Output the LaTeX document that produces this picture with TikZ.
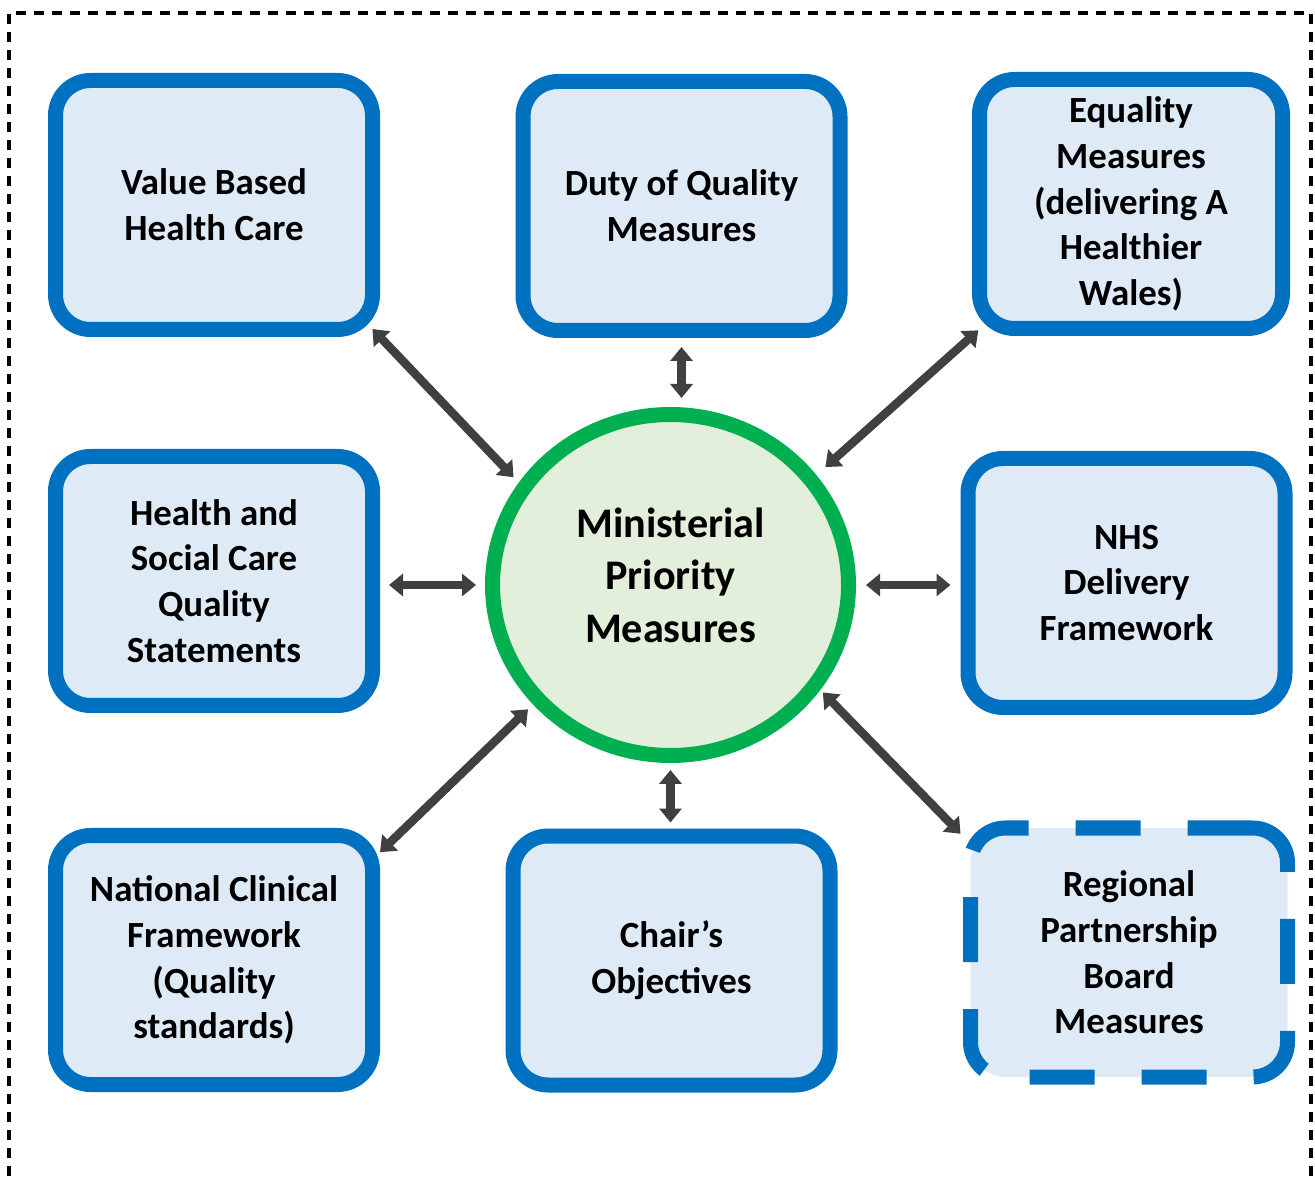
\documentclass[tikz,border=0pt]{standalone}
\usepackage{fontspec}
\setmainfont{Carlito}
\usepackage{tikz}
\usetikzlibrary{arrows.meta,shapes.geometric}
\definecolor{boxblue}{RGB}{0,112,192}
\definecolor{boxfill}{RGB}{222,235,247}
\definecolor{hubgreen}{RGB}{0,176,80}
\definecolor{hubfill}{RGB}{226,239,218}
\definecolor{arrgrey}{RGB}{64,64,64}

\begin{document}
\begin{tikzpicture}[
  font=\bfseries,
  measure/.style={rectangle, rounded corners=0.7cm, draw=boxblue, line width=0.3cm, fill=boxfill,
                  minimum width=6.34cm, minimum height=4.98cm, inner sep=2pt, align=center,
                  font=\fontsize{21}{26}\selectfont\bfseries},
  hub/.style={ellipse, draw=hubgreen, line width=0.3cm, fill=hubfill,
              minimum width=7.12cm, minimum height=6.82cm, align=center, text depth=0.4cm,
              font=\fontsize{24}{30}\selectfont\bfseries},
  link/.style={{Triangle[length=0.28cm,width=0.44cm]}-{Triangle[length=0.28cm,width=0.44cm]},
               draw=arrgrey, line width=0.17cm},
  outerframe/.style={draw=black, line width=0.07cm, dash pattern=on 0.2cm off 0.16cm},
]
\useasboundingbox (0,0) rectangle (26.3,23.52);

% outer dashed frame, runs off the bottom
\draw[outerframe] (0.18,0) -- (0.18,23.26) -- (26.22,23.26) -- (26.22,0);

% ============================================================
% centre: ministerial priorities
% ============================================================
\node[hub] (mpm) at (13.41,11.82) {Ministerial\\Priority\\Measures};

% ============================================================
% surrounding measure sets
% ============================================================
\node[measure] (vbhc) at (4.28,19.42)  {Value Based\\Health Care};
\node[measure] (dqm)  at (13.63,19.40) {Duty of Quality\\Measures};
\node[measure, minimum width=6.06cm] (eqm) at (22.62,19.44)
  {Equality\\Measures\\(delivering A\\Healthier\\Wales)};
\node[measure] (hsc)  at (4.28,11.90)  {Health and\\Social Care\\Quality\\Statements};
\node[measure] (nhs)  at (22.53,11.86) {NHS\\Delivery\\Framework};
\node[measure] (ncf)  at (4.28,4.32)   {National Clinical\\Framework\\(Quality\\standards)};
\node[measure] (cho)  at (13.43,4.31)  {Chair’s\\Objectives};
\node[measure, dash pattern=on 1.3cm off 0.94cm] (rpb) at (22.58,4.47)
  {Regional\\Partnership\\Board\\Measures};

% ============================================================
% two-way links
% ============================================================
\draw[link, shorten <=-0.22cm, shorten >=0.15cm] (vbhc.south east) -- (mpm.146);
\draw[link, shorten <=0.18cm, shorten >=0.18cm] (dqm.south) -- (dqm.south |- mpm.north);
\draw[link, shorten <=-0.17cm, shorten >=0.24cm] (eqm.south west) -- (mpm.37);
\draw[link, shorten <=0.18cm, shorten >=0.18cm] (mpm.west -| hsc.east) -- (mpm.west);
\draw[link, shorten <=0.2cm, shorten >=0.2cm] (mpm.east) -- (mpm.east -| nhs.west);
\draw[link, shorten <=0.14cm] (mpm.221) -- (ncf.33);
\draw[link, shorten <=0.14cm, shorten >=0.12cm] (mpm.south) -- (mpm.south |- cho.north);
\draw[link, shorten <=0.07cm, shorten >=0.07cm] (mpm.325) -- (rpb.145);

\end{tikzpicture}
\end{document}
